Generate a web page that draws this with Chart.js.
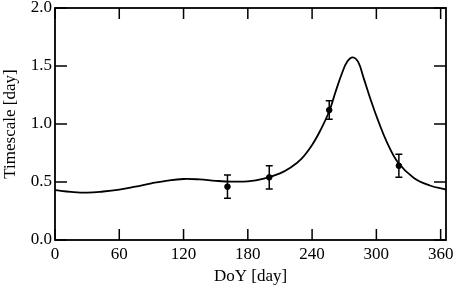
<!DOCTYPE html>
<html lang="en">
<head>
  <meta charset="UTF-8">
  <title>Timescale vs DoY</title>
  <script src="https://cdn.jsdelivr.net/npm/chart.js"></script>
  <style>
    html, body { margin: 0; padding: 0; background: #fff; }
    #wrap { width: 455px; height: 288px; }
  </style>
</head>
<body>
  <div id="wrap"><canvas id="chart" width="455" height="288"></canvas></div>
  <script>
    // model curve
    const curveDays = [0, 15, 30, 45, 60, 75, 90, 105, 120, 135, 150, 165, 180, 195, 210, 220, 230, 240, 248, 256, 262, 268, 273, 278, 283, 288, 295, 302, 310, 320, 335, 350, 365];
    const curveVals = [0.43, 0.415, 0.408, 0.418, 0.435, 0.46, 0.488, 0.512, 0.526, 0.522, 0.51, 0.503, 0.506, 0.53, 0.575, 0.625, 0.70, 0.82, 0.95, 1.11, 1.28, 1.44, 1.54, 1.575, 1.535, 1.40, 1.20, 1.02, 0.84, 0.67, 0.535, 0.47, 0.435];

    // measurements with errors
    const obsDays = [161, 200, 256, 321];
    const obsVals = [0.46, 0.54, 1.12, 0.64];
    const obsErrs = [0.1, 0.1, 0.08, 0.1];

    const xTicks = [0, 60, 120, 180, 240, 300, 360];
    const yTicks = [0, 0.5, 1.0, 1.5, 2.0];

    const FONT = 'Liberation Serif';

    // box frame with inward ticks + error bars
    const framePlugin = {
      id: 'frame',
      afterDatasetsDraw(chart) {
        const c = chart.ctx;
        const a = chart.chartArea;
        const xs = chart.scales.x, ys = chart.scales.y;
        c.save();
        c.strokeStyle = '#000';

        // error bars
        c.lineWidth = 1.5;
        obsDays.forEach((d, i) => {
          const px = xs.getPixelForValue(d);
          const top = ys.getPixelForValue(obsVals[i] + obsErrs[i]);
          const bot = ys.getPixelForValue(obsVals[i] - obsErrs[i]);
          c.beginPath();
          c.moveTo(px, top); c.lineTo(px, bot);
          c.moveTo(px - 3.5, top); c.lineTo(px + 3.5, top);
          c.moveTo(px - 3.5, bot); c.lineTo(px + 3.5, bot);
          c.stroke();
        });

        // frame
        c.lineWidth = 1.8;
        c.strokeRect(a.left, a.top, a.right - a.left, a.bottom - a.top);

        // inward ticks
        c.lineWidth = 1.5;
        const tl = 11;
        c.beginPath();
        xTicks.forEach(v => {
          const px = xs.getPixelForValue(v);
          c.moveTo(px, a.bottom); c.lineTo(px, a.bottom - tl);
          c.moveTo(px, a.top); c.lineTo(px, a.top + tl);
        });
        yTicks.forEach(v => {
          const py = ys.getPixelForValue(v);
          c.moveTo(a.left, py); c.lineTo(a.left + tl + 1, py);
          c.moveTo(a.right, py); c.lineTo(a.right - tl - 1, py);
        });
        c.stroke();
        c.restore();
      }
    };

    const ctx = document.getElementById('chart').getContext('2d');
    const chart = new Chart(ctx, {
      type: 'scatter',
      data: {
        datasets: [
          {
            type: 'line',
            label: 'model',
            data: curveDays.map((d, i) => ({ x: d, y: curveVals[i] })),
            borderColor: '#000',
            borderWidth: 1.8,
            pointRadius: 0,
            tension: 0.4,
            fill: false
          },
          {
            label: 'obs',
            data: obsDays.map((d, i) => ({ x: d, y: obsVals[i] })),
            backgroundColor: '#000',
            borderColor: '#000',
            pointRadius: 2.8,
            pointHoverRadius: 2.8
          }
        ]
      },
      options: {
        responsive: false,
        animation: false,
        events: [],
        layout: { padding: { top: 8, right: 9, left: 0, bottom: 0 } },
        plugins: { legend: { display: false }, tooltip: { enabled: false } },
        scales: {
          x: {
            type: 'linear',
            min: 0,
            max: 365,
            border: { display: false },
            grid: { display: false, drawTicks: false },
            afterBuildTicks: s => { s.ticks = xTicks.map(v => ({ value: v })); },
            afterFit: s => { s.height = 48; s.paddingLeft = 0; s.paddingRight = 0; },
            ticks: {
              color: '#000',
              padding: 4,
              maxRotation: 0,
              font: { family: FONT, size: 17 },
              callback: v => String(v)
            },
            title: {
              display: true,
              text: 'DoY [day]',
              color: '#000',
              padding: { top: 0, bottom: 1 },
              font: { family: FONT, size: 17 }
            }
          },
          y: {
            type: 'linear',
            min: 0,
            max: 2,
            border: { display: false },
            grid: { display: false, drawTicks: false },
            afterBuildTicks: s => { s.ticks = yTicks.map(v => ({ value: v })); },
            afterFit: s => { s.width = 55; s.paddingTop = 0; s.paddingBottom = 0; },
            ticks: {
              color: '#000',
              padding: 3,
              font: { family: FONT, size: 17 },
              callback: v => Number(v).toFixed(1)
            },
            title: {
              display: true,
              text: 'Timescale [day]',
              color: '#000',
              padding: 0,
              font: { family: FONT, size: 17 }
            }
          }
        }
      },
      plugins: [framePlugin]
    });
  </script>
</body>
</html>
